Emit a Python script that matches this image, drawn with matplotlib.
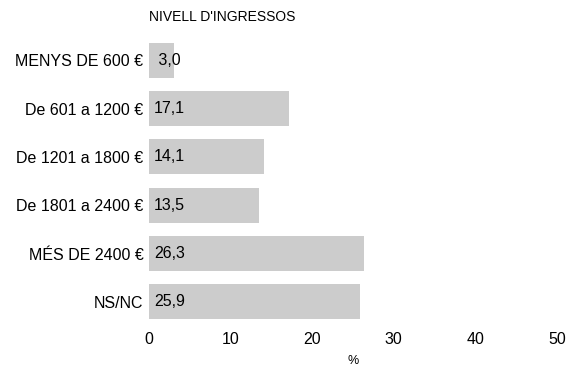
import matplotlib.pyplot as plt

plt.rcParams['font.family'] = ['Liberation Sans', 'DejaVu Sans']

categories = ["MENYS DE 600 €", "De 601 a 1200 €", "De 1201 a 1800 €",
              "De 1801 a 2400 €", "MÉS DE 2400 €", "NS/NC"]
values = [3.0, 17.1, 14.1, 13.5, 26.3, 25.9]

fig = plt.figure(figsize=(5.71, 3.68), dpi=100)
ax = fig.add_axes([0.261, 0.114, 0.7145, 0.788])

y = range(len(categories))
ax.barh(y, values, height=0.72, color="#cccccc")
for i, v in zip(y, values):
    lbl = f"{v:.1f}".replace(".", ",")
    if v < 10:
        lbl = " " + lbl
    ax.text(0.6, i, lbl, va="center", ha="left", fontsize=11.5)

ax.set_xlim(0, 50)
ax.set_ylim(len(categories) - 0.5, -0.5)
ax.set_yticks(list(y))
ax.set_yticklabels(categories, fontsize=11.5)
ax.set_xticks([0, 10, 20, 30, 40, 50])
ax.tick_params(axis="both", length=0, labelsize=11.5)
ax.tick_params(axis="x", pad=4)
ax.tick_params(axis="y", pad=4)
for s in ax.spines.values():
    s.set_visible(False)
ax.set_xlabel("%", fontsize=9, labelpad=6)
fig.text(149 / 571, 1 - 17 / 368, "NIVELL D'INGRESSOS", fontsize=10, va="center", ha="left")

fig.savefig("out.png")
